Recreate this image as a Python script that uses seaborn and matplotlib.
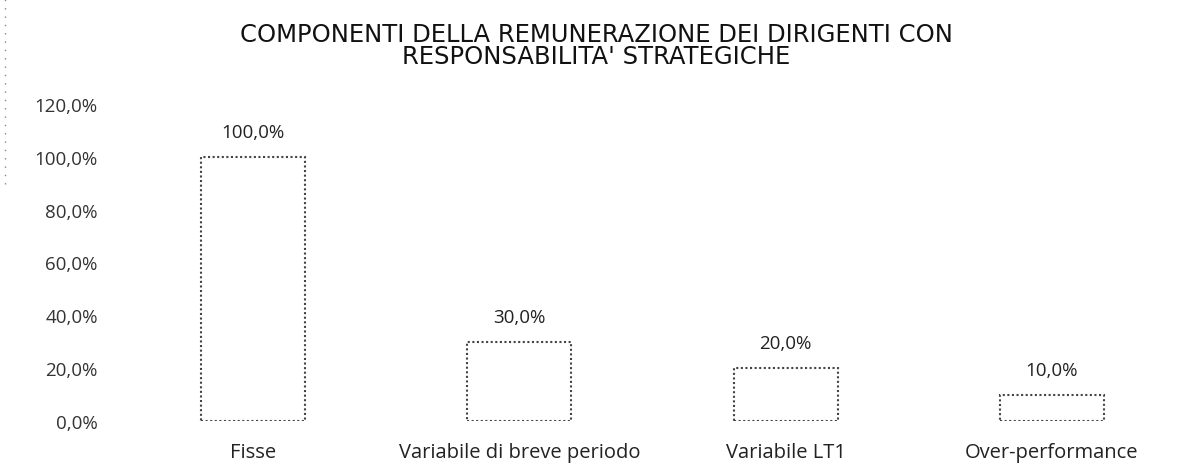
import matplotlib
matplotlib.use("Agg")
import matplotlib.pyplot as plt
from matplotlib.lines import Line2D
import seaborn as sns
import pandas as pd

categories = ["Fisse", "Variabile di breve periodo", "Variabile LT1", "Over-performance"]
values = [100.0, 30.0, 20.0, 10.0]
ytick_values = [0, 20, 40, 60, 80, 100, 120]
title = "COMPONENTI DELLA REMUNERAZIONE DEI DIRIGENTI CON\nRESPONSABILITA' STRATEGICHE"


def pct(v):
    return f"{v:.1f}%".replace(".", ",")


df = pd.DataFrame({"componente": categories, "valore": values})

sns.set_theme(style="white")
plt.rcParams["font.family"] = ["Open Sans", "DejaVu Sans"]

fig = plt.figure(figsize=(12.04, 4.77), dpi=100)
ax = fig.add_axes([120 / 1204, 55 / 477, 1065 / 1204, 317 / 477])

sns.barplot(data=df, x="componente", y="valore", ax=ax, color="white",
            width=0.39, edgecolor="#444444", linewidth=1.5, linestyle=(0, (1, 1.2)))

for patch, v in zip(ax.patches, values):
    ax.text(patch.get_x() + patch.get_width() / 2, v + 6.0, pct(v),
            ha="center", va="bottom", fontsize=13.5, color="#222222")

ax.set_ylim(0, 120)
ax.set_xlim(-0.5, len(categories) - 0.5)
ax.set_yticks(ytick_values)
ax.set_yticklabels([pct(v) for v in ytick_values], fontsize=13.5, color="#333333")
ax.tick_params(axis="y", length=0, pad=16)
ax.tick_params(axis="x", length=0, pad=15, labelsize=14.5, labelcolor="#222222")
ax.set_xlabel("")
ax.set_ylabel("")
for s in ax.spines.values():
    s.set_visible(False)

fig.text(596 / 1204, 1 - 46 / 477, title, ha="center", va="center",
         fontsize=17.5, family=["DejaVu Sans"], color="#111111",
         linespacing=0.92)

# thin dotted frame fragment along the left margin
fig.add_artist(Line2D([5 / 1204, 5 / 1204], [1 - 185 / 477, 1.0],
                      transform=fig.transFigure, color="#888888",
                      linestyle=(0, (1, 5)), linewidth=1.0))

fig.savefig("out.png", dpi=100, facecolor="white")
